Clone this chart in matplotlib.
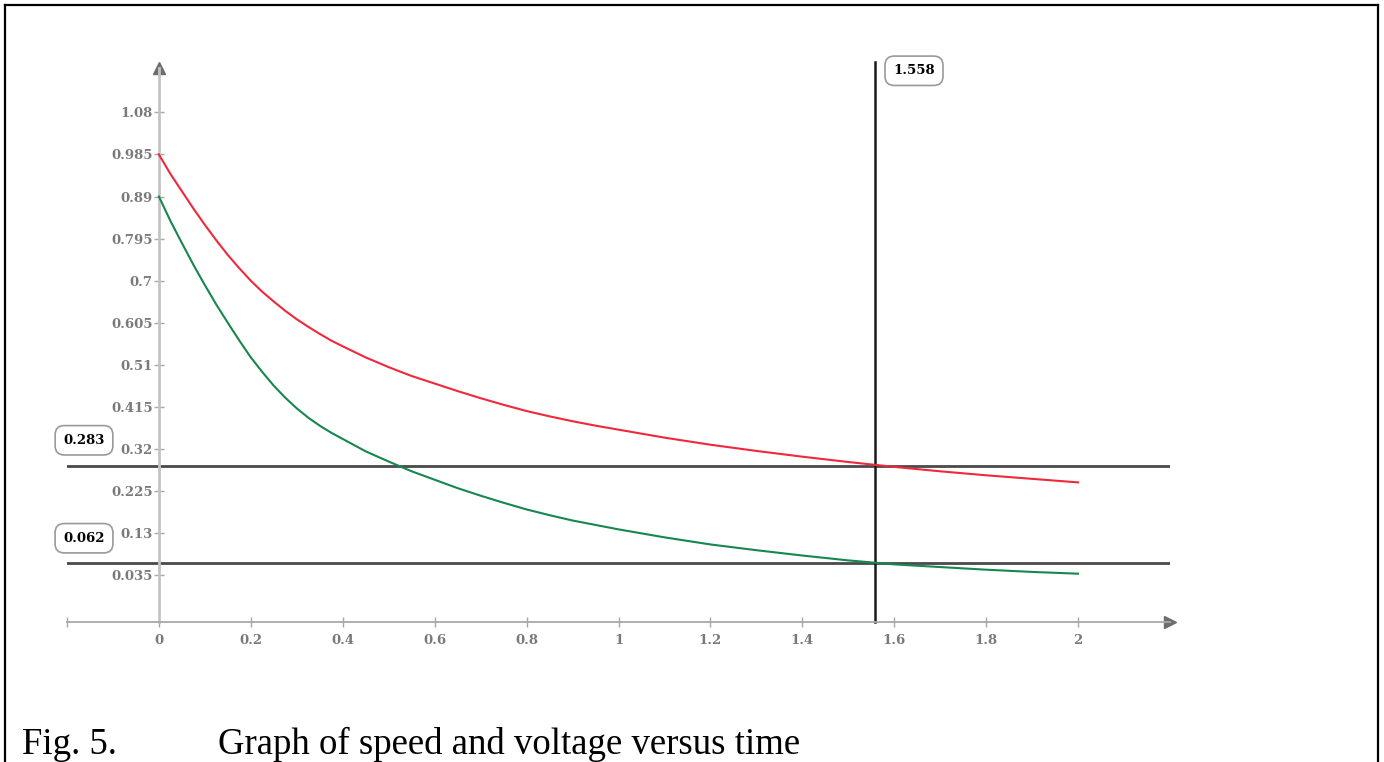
import matplotlib
matplotlib.use("Agg")
import matplotlib.pyplot as plt
from matplotlib.lines import Line2D

# time axis (s) and the two responses
t = [0, 0.025, 0.05, 0.075, 0.1, 0.125, 0.15, 0.175, 0.2, 0.225, 0.25, 0.275,
     0.3, 0.325, 0.35, 0.375, 0.4, 0.45, 0.5,
     0.55, 0.6, 0.65, 0.7, 0.75, 0.8, 0.85, 0.9, 0.95, 1.0,
     1.1, 1.2, 1.3, 1.4, 1.5, 1.6, 1.7, 1.8, 1.9, 2.0]
red = [0.985, 0.941, 0.902, 0.863, 0.826, 0.791, 0.758, 0.728, 0.700, 0.675,
       0.653, 0.632, 0.613, 0.596, 0.580, 0.565, 0.552, 0.527, 0.505,
       0.485, 0.468, 0.451, 0.435, 0.420, 0.406, 0.394, 0.383, 0.373, 0.364,
       0.346, 0.330, 0.316, 0.303, 0.291, 0.280, 0.270, 0.261, 0.253, 0.245]
green = [0.890, 0.835, 0.785, 0.736, 0.690, 0.646, 0.605, 0.565, 0.527, 0.494,
         0.463, 0.436, 0.412, 0.391, 0.373, 0.357, 0.343, 0.315, 0.292,
         0.270, 0.251, 0.232, 0.215, 0.199, 0.184, 0.171, 0.159, 0.149, 0.139,
         0.121, 0.105, 0.092, 0.080, 0.069, 0.060, 0.054, 0.048, 0.043, 0.039]

# marker lines
h_marks = [0.283, 0.062]
v_mark = 1.558

# ticks
xticks = [-0.2, 0, 0.2, 0.4, 0.6, 0.8, 1.0, 1.2, 1.4, 1.6, 1.8, 2.0]
xticklabels = ['', '0', '0.2', '0.4', '0.6', '0.8', '1', '1.2', '1.4', '1.6', '1.8', '2']
yticks = [1.08, 0.985, 0.89, 0.795, 0.7, 0.605, 0.51, 0.415, 0.32, 0.225, 0.13, 0.035]
yticklabels = ['1.08', '0.985', '0.89', '0.795', '0.7', '0.605', '0.51', '0.415',
               '0.32', '0.225', '0.13', '0.035']

W, H = 1384, 762
fig = plt.figure(figsize=(W / 100, H / 100), dpi=100)
ax = fig.add_axes([67 / W, 140 / H, 1103 / W, 554 / H])
ax.set_xlim(-0.2, 2.2)
ax.set_ylim(-0.07, 1.18)

# axes drawn like the original: y axis through x=0, arrows at the ends
for s in ['top', 'right']:
    ax.spines[s].set_visible(False)
ax.spines['left'].set_position(('data', 0))
ax.spines['left'].set_color('#c4c4c4')
ax.spines['left'].set_linewidth(2.0)
ax.spines['bottom'].set_color('#a8a8a8')
ax.spines['bottom'].set_linewidth(1.3)
ax.plot(1, -0.07, '>', color='#6e6e6e', ms=8, transform=ax.get_yaxis_transform(), clip_on=False)
ax.plot(0, 1, '^', color='#6e6e6e', ms=8, transform=ax.get_xaxis_transform(), clip_on=False)

tick_font = dict(family='DejaVu Serif', weight='bold', size=9.5)
ax.set_xticks(xticks)
ax.set_xticklabels(xticklabels, color='#7a7a7a', **tick_font)
ax.set_yticks(yticks)
ax.set_yticklabels(yticklabels, color='#7a7a7a', **tick_font)
ax.tick_params(axis='x', direction='inout', length=7, width=1, color='#a8a8a8', pad=5)
ax.tick_params(axis='y', direction='inout', length=7, width=1, color='#a8a8a8', pad=1)

# curves
ax.plot(t, red, color='#f0283c', lw=1.5, zorder=3, solid_joinstyle='round')
ax.plot(t, green, color='#16874e', lw=1.5, zorder=3, solid_joinstyle='round')

# horizontal and vertical markers with their labels
box = dict(boxstyle='round,pad=0.62,rounding_size=0.7', fc='white', ec='#9a9a9a', lw=1.2)
for h in h_marks:
    ax.axhline(h, color='#4a4a4a', lw=2.0, zorder=2)
    ax.text(-0.163, h + 0.057, f'{h:.3f}', ha='center', va='center',
            family='DejaVu Serif', weight='bold', size=9.5, color='black', bbox=box)
ax.axvline(v_mark, ymax=1.01, color='#1a1a1a', lw=1.8, zorder=2, clip_on=False)
ax.text(v_mark + 0.085, 0.995, f'{v_mark:.3f}', ha='center', va='center',
        transform=ax.get_xaxis_transform(),
        family='DejaVu Serif', weight='bold', size=9.5, color='black', bbox=box)

# caption
fig.text(22 / W, 8 / H, 'Fig. 5.', family='Liberation Serif', size=26.5, va='baseline')
fig.text(218 / W, 8 / H, 'Graph of speed and voltage versus time',
         family='Liberation Serif', size=26.5, va='baseline')

# page frame
for xs, ys in [([5, 5], [0, H - 5]), ([5, 1378], [H - 5, H - 5]), ([1378, 1378], [0, H - 5])]:
    fig.add_artist(Line2D([x / W for x in xs], [y / H for y in ys], color='black', lw=1.6))

fig.savefig('out.png', dpi=100)
